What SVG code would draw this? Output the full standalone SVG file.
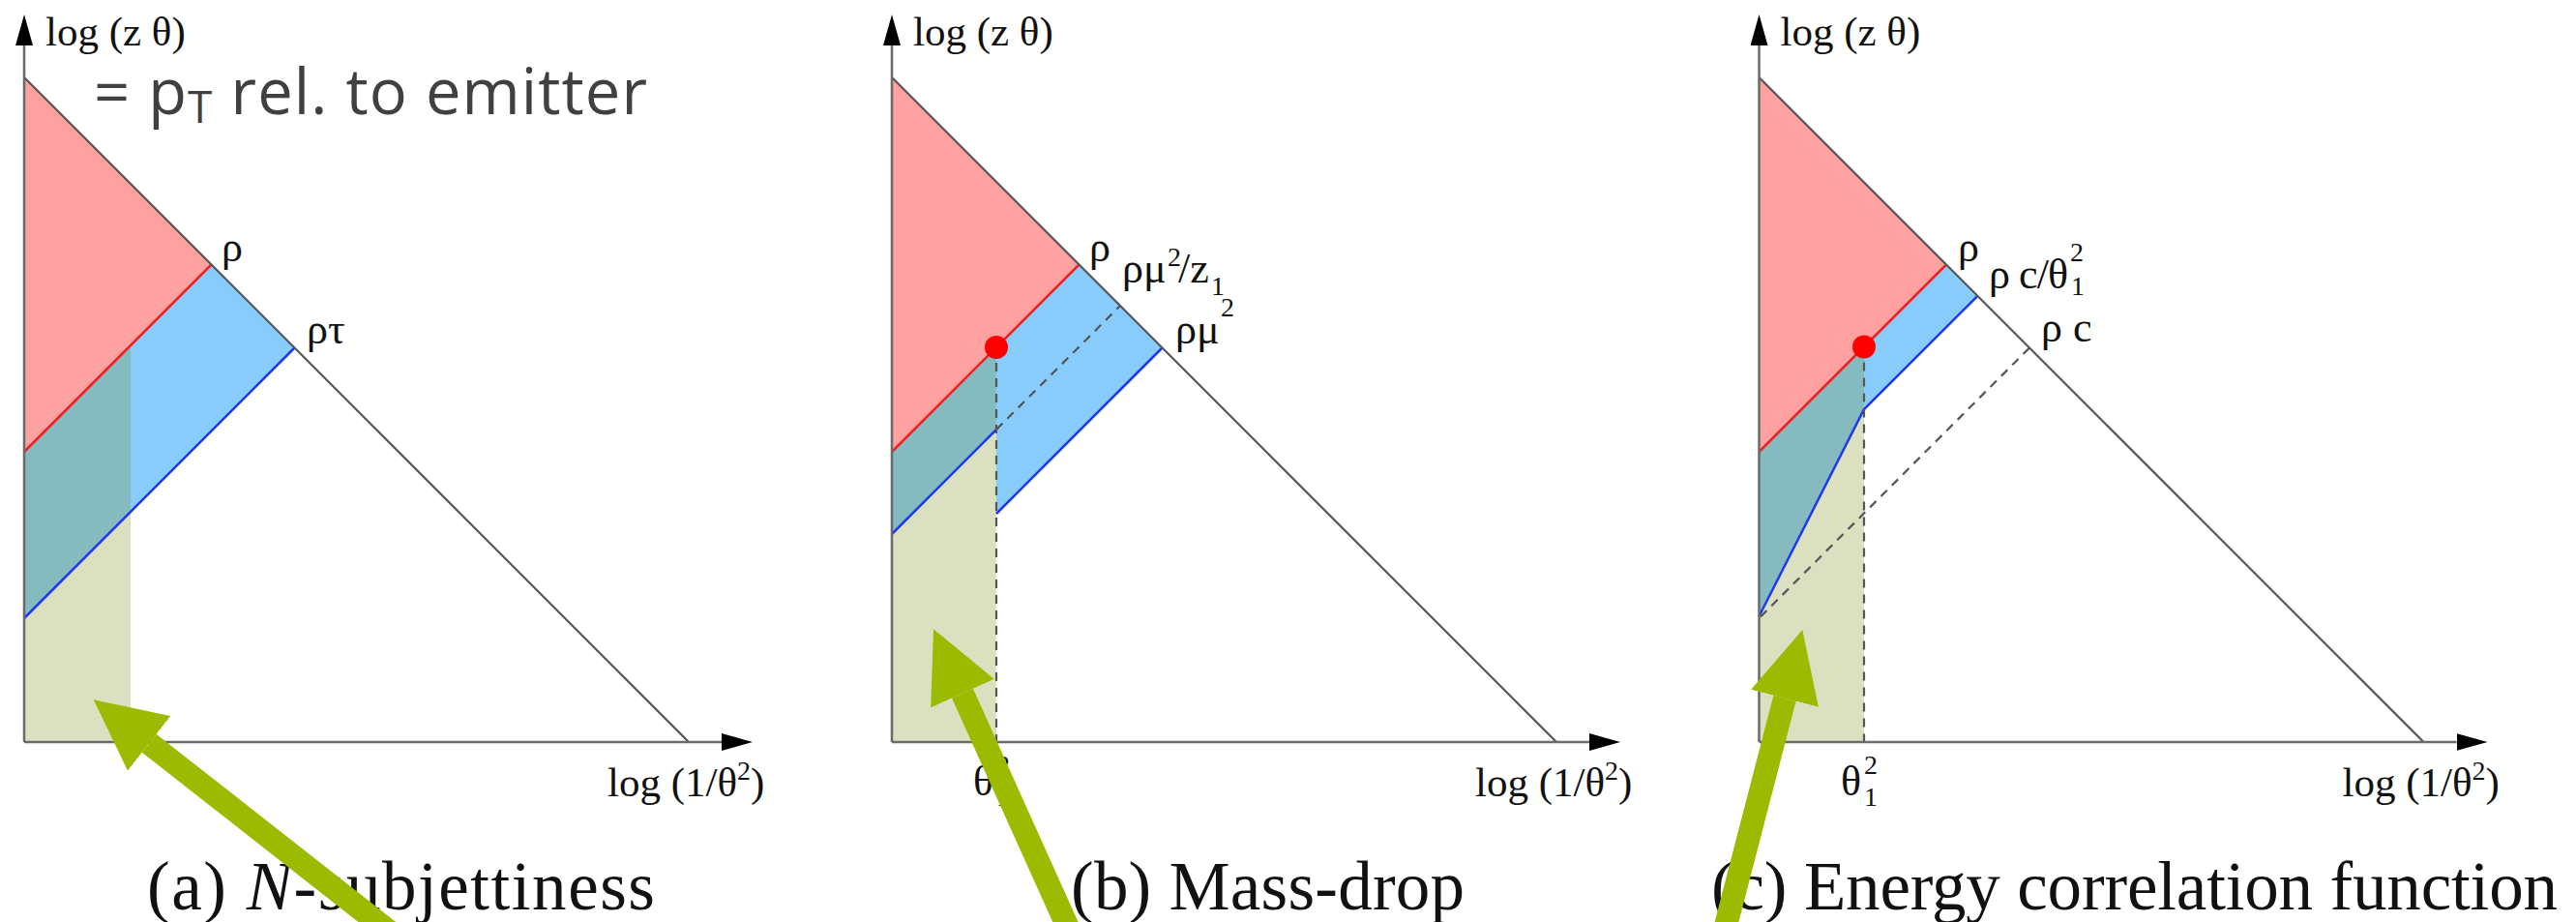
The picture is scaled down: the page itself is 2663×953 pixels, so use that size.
<svg xmlns="http://www.w3.org/2000/svg" width="2663" height="953" viewBox="0 0 2663 953">
<defs>
<style>
.pink{fill:#FFA1A1}
.blue{fill:#88CCFC}
.ov{fill:#7F8F1C;fill-opacity:0.28}
.diag{stroke:#555;stroke-width:2.2;fill:none}
.axis{stroke:#6a6a6a;stroke-width:2.5;fill:none}
.rl{stroke:#F02020;stroke-width:2.5;fill:none}
.bl{stroke:#2038F0;stroke-width:2.5;fill:none}
.dash{stroke:#555;stroke-width:2.2;stroke-dasharray:9 7;fill:none}
.dot{fill:#FF0000}
.lab{font-family:"Liberation Serif",serif;font-size:43px;fill:#111}
.rho{font-family:"Liberation Serif",serif;font-size:44px;fill:#111}
.sm{font-family:"Liberation Serif",serif;font-size:28px;fill:#111}
.cap{font-family:"Liberation Serif",serif;font-size:71px;fill:#111}
.green{stroke:#9CBB00;stroke-width:24;fill:none}
</style>
<marker id="ax" markerUnits="userSpaceOnUse" viewBox="0 0 32 18" markerWidth="32" markerHeight="18" refX="0" refY="9" orient="auto"><path d="M0,0 L32,9 L0,18 z" fill="#000"/></marker>
<marker id="gh" markerUnits="userSpaceOnUse" viewBox="0 0 73 72" markerWidth="73" markerHeight="72" refX="0" refY="36" orient="auto"><path d="M0,0 L73,36 L0,72 z" fill="#9CBB00"/></marker>
</defs>
<rect width="2663" height="953" fill="#fff"/>

<g id="panel-a">
<polygon class="pink" points="25,80 218.5,273.5 25,467"/>
<polygon class="blue" points="25,467 218.5,273.5 304.5,359.5 25,639"/>
<polygon class="ov" points="25,467 135,357 135,767 25,767"/>
<line class="rl" x1="25" y1="467" x2="218.5" y2="273.5"/>
<line class="bl" x1="25" y1="639" x2="304.5" y2="359.5"/>
<line class="diag" x1="25" y1="80" x2="712" y2="767"/>
<line class="axis" x1="25" y1="767" x2="25" y2="47" marker-end="url(#ax)"/>
<line class="axis" x1="25" y1="767" x2="746" y2="767" marker-end="url(#ax)"/>
<text class="lab" x="47" y="47">log (z θ)</text>
<text class="lab" x="628" y="823">log (1/θ<tspan font-size="28" dy="-17">2</tspan><tspan dy="17">)</tspan></text>
<text class="rho" x="229" y="270">ρ</text>
<text class="rho" x="317" y="355">ρτ</text>
<text x="97" y="118" font-family="Open Sans, sans-serif" font-size="65" fill="#404040" textLength="572">= p<tspan font-size="46" dy="9">T</tspan><tspan dy="-9"> rel. to emitter</tspan></text>
<text class="cap" x="152" y="940" textLength="525">(a) <tspan font-style="italic">N</tspan>-subjettiness</text>
</g>

<g id="panel-b">
<polygon class="pink" points="922,80 1115.5,273.5 922,467"/>
<polygon class="blue" points="922,467 1115.5,273.5 1201.5,359.5 1030,531 1030,444 922,552"/>
<polygon class="ov" points="922,467 1030,359 1030,767 922,767"/>
<line class="rl" x1="922" y1="467" x2="1115.5" y2="273.5"/>
<line class="bl" x1="1030" y1="531" x2="1201.5" y2="359.5"/>
<line class="bl" x1="922" y1="552" x2="1030" y2="444"/>
<line class="dash" x1="1030" y1="444" x2="1158" y2="316"/>
<line class="dash" x1="1030" y1="359" x2="1030" y2="767"/>
<line class="diag" x1="922" y1="80" x2="1609" y2="767"/>
<circle class="dot" cx="1030" cy="359" r="12"/>
<line class="axis" x1="922" y1="767" x2="922" y2="47" marker-end="url(#ax)"/>
<line class="axis" x1="922" y1="767" x2="1643" y2="767" marker-end="url(#ax)"/>
<text class="lab" x="944" y="47">log (z θ)</text>
<text class="lab" x="1525" y="823">log (1/θ<tspan font-size="28" dy="-17">2</tspan><tspan dy="17">)</tspan></text>
<text class="rho" x="1126" y="270">ρ</text>
<text class="rho" x="1160" y="292">ρμ</text>
<text class="sm" x="1207" y="275">2</text>
<text class="rho" x="1218" y="292">/z</text>
<text class="sm" x="1252" y="305">1</text>
<text class="rho" x="1215" y="355">ρμ</text>
<text class="sm" x="1262" y="327">2</text>
<text class="rho" x="1006" y="822">θ</text>
<text class="sm" x="1030" y="800">2</text>
<text class="sm" x="1030" y="833">1</text>
<text class="cap" x="1107" y="940" textLength="407">(b) Mass-drop</text>
</g>

<g id="panel-c">
<polygon class="pink" points="1818.5,80 2012,273.5 1818.5,467"/>
<polygon class="blue" points="1818.5,467 2012,273.5 2044.3,306 1927,423 1818.5,637"/>
<polygon class="ov" points="1818.5,467 1927,358.5 1927,767 1818.5,767"/>
<line class="rl" x1="1818.5" y1="467" x2="2012" y2="273.5"/>
<polyline class="bl" points="1818.5,637 1927,423 2044.3,306"/>
<line class="dash" x1="1820" y1="637.5" x2="2098" y2="359.5"/>
<line class="dash" x1="1927" y1="358.5" x2="1927" y2="767"/>
<line class="diag" x1="1818.5" y1="80" x2="2505.5" y2="767"/>
<circle class="dot" cx="1927" cy="358.5" r="12"/>
<line class="axis" x1="1818.5" y1="767" x2="1818.5" y2="47" marker-end="url(#ax)"/>
<line class="axis" x1="1818.5" y1="767" x2="2539.5" y2="767" marker-end="url(#ax)"/>
<text class="lab" x="1840.5" y="47">log (z θ)</text>
<text class="lab" x="2421.5" y="823">log (1/θ<tspan font-size="28" dy="-17">2</tspan><tspan dy="17">)</tspan></text>
<text class="rho" x="2024" y="270">ρ</text>
<text class="rho" x="2056" y="298" textLength="82">ρ c/θ</text>
<text class="sm" x="2140" y="270">2</text>
<text class="sm" x="2141" y="305">1</text>
<text class="rho" x="2110" y="353">ρ c</text>
<text class="rho" x="1903" y="822">θ</text>
<text class="sm" x="1927" y="800">2</text>
<text class="sm" x="1927" y="833">1</text>
<text class="cap" x="1769" y="940" textLength="875">(c) Energy correlation function</text>
</g>

<g id="connectors">
<line class="green" x1="414" y1="972" x2="154.2" y2="768.3" marker-end="url(#gh)"/>
<line class="green" x1="1110" y1="972" x2="995" y2="716.7" marker-end="url(#gh)"/>
<line class="green" x1="1779.7" y1="973.4" x2="1845" y2="721.7" marker-end="url(#gh)"/>
</g>
</svg>
